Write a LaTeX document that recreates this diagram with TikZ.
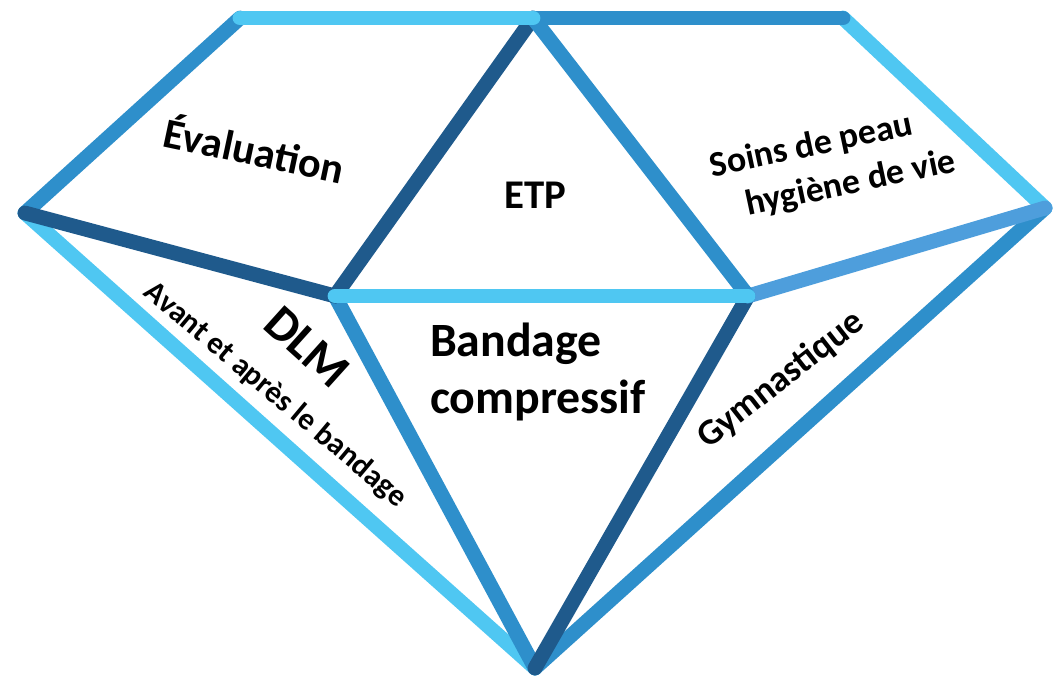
\documentclass[tikz,border=0pt]{standalone}
\usepackage{fontspec}
\setmainfont{Carlito}
\usepackage{tikz}

\definecolor{gemlight}{RGB}{79,199,242}
\definecolor{gemmid}{RGB}{46,143,203}
\definecolor{gemsky}{RGB}{78,158,220}
\definecolor{gemdark}{RGB}{31,90,140}

\begin{document}
\begin{tikzpicture}[x=0.025cm, y=-0.025cm, every node/.style={font=\bfseries, text=black, align=center}, every path/.style={line width=10.5pt, line cap=round}]

    \useasboundingbox (0,0) rectangle (1058,686);

    % Corners of the gem
    \coordinate (tl) at (240,18);
    \coordinate (tm) at (533,18);
    \coordinate (tr) at (843,18);
    \coordinate (l) at (25,213);
    \coordinate (r) at (1045,208);
    \coordinate (il) at (335,296);
    \coordinate (ir) at (748,296);
    \coordinate (b) at (535,668);

    % Facets
    \draw[gemlight] (l) -- (b);
    \draw[gemmid] (r) -- (b);
    \draw[gemmid] (il) -- (b);
    \draw[gemdark] (ir) -- (b);
    \draw[gemmid] (tl) -- (l);
    \draw[gemlight] (tr) -- (r);
    \draw[gemdark] (l) -- (il);
    \draw[gemsky] (r) -- (ir);
    \draw[gemdark] (tm) -- (il);
    \draw[gemmid] (tm) -- (ir);
    \draw[gemlight] (il) -- (ir);
    \draw[gemmid] (tm) -- (tr);
    \draw[gemlight] (tl) -- (tm);

    % Labels
    \node[rotate=-12, font=\bfseries\fontsize{30}{30}\selectfont] (eval) at (255,148) {Évaluation};
    \node[font=\bfseries\fontsize{29}{29}\selectfont] (etp) at (535,195) {ETP};
    \node[rotate=12, align=left, font=\bfseries\fontsize{25.5}{32}\selectfont] (soins) at (833,165) {Soins de peau\\\hspace*{0.75em}hygiène de vie};
    \node[rotate=-42, font=\bfseries\fontsize{35}{35}\selectfont] (dlm) at (307,347) {DLM};
    \node[rotate=-40, font=\bfseries\fontsize{22}{22}\selectfont] (avant) at (275,395) {Avant et après le bandage};
    \node[anchor=west, align=left, font=\bfseries\fontsize{34}{40}\selectfont] (bandage) at (418,372) {Bandage\\compressif};
    \node[rotate=38, font=\bfseries\fontsize{26}{26}\selectfont] (gym) at (781,380) {Gymnastique};

\end{tikzpicture}
\end{document}
